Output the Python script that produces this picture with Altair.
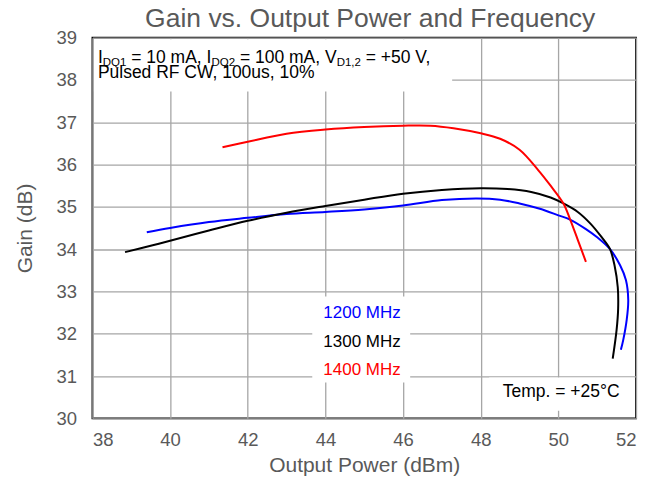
import altair as alt
import pandas as pd

FONT = "Liberation Sans"
GRAY = "#595959"

# Gain curves (x = output power in dBm, y = gain in dB), in drawing order
p_1200 = [39.4, 40.0, 41.0, 42.0, 43.0, 44.0, 45.0, 46.0, 47.0, 47.9, 48.5, 49.0, 49.5,
          50.0, 50.3, 50.7, 51.0, 51.33, 51.59, 51.74, 51.80, 51.76, 51.67, 51.61]
g_1200 = [34.40, 34.50, 34.64, 34.74, 34.83, 34.88, 34.94, 35.03, 35.16, 35.20, 35.17, 35.08, 34.96,
          34.80, 34.70, 34.48, 34.28, 34.00, 33.62, 33.27, 32.80, 32.33, 31.85, 31.62]

p_1300 = [38.84, 39.5, 40.0, 41.0, 42.0, 43.0, 44.0, 45.0, 46.0, 47.0, 48.0, 48.7, 49.3,
          49.8, 50.13, 50.5, 50.82, 51.1, 51.33, 51.45, 51.53, 51.54, 51.50, 51.40]
g_1300 = [33.93, 34.08, 34.20, 34.44, 34.67, 34.86, 35.02, 35.17, 35.31, 35.40, 35.44, 35.42, 35.35,
          35.22, 35.08, 34.88, 34.61, 34.30, 34.00, 33.60, 33.10, 32.60, 32.09, 31.41]

p_1400 = [41.35, 42.0, 43.0, 44.0, 45.0, 46.0, 46.7, 47.3, 48.0, 48.5, 49.0, 49.48,
          49.8, 50.13, 50.3, 50.5, 50.71]
g_1400 = [36.41, 36.54, 36.73, 36.83, 36.89, 36.92, 36.92, 36.86, 36.74, 36.61, 36.35, 35.87,
          35.50, 35.08, 34.71, 34.22, 33.70]

series = ["1200 MHz", "1300 MHz", "1400 MHz"]
colors = ["#0000FF", "#000000", "#FF0000"]

x_ticks = [38, 40, 42, 44, 46, 48, 50, 52]
y_ticks = [30, 31, 32, 33, 34, 35, 36, 37, 38, 39]

rows = []
for name, xs, ys in zip(series, [p_1200, p_1300, p_1400], [g_1200, g_1300, g_1400]):
    for i, (x, y) in enumerate(zip(xs, ys)):
        rows.append({"series": name, "seq": i, "pout": x, "gain": y})
df = pd.DataFrame(rows)

W, H = 544, 381

lines = alt.Chart(df).mark_line(strokeWidth=2, interpolate="catmull-rom").encode(
    x=alt.X("pout:Q", scale=alt.Scale(domain=[38, 52], nice=False),
            axis=alt.Axis(values=x_ticks, title="Output Power (dBm)", format="d")),
    y=alt.Y("gain:Q", scale=alt.Scale(domain=[30, 39], nice=False),
            axis=alt.Axis(values=y_ticks, title="Gain (dB)", format="d")),
    color=alt.Color("series:N", scale=alt.Scale(domain=series, range=colors), legend=None),
    detail="series:N",
    order="seq:Q",
)

one = alt.Data(values=[{}])


def box(x0, x1, y0, y1):
    return alt.Chart(one).mark_rect(color="white").encode(
        x=alt.value(x0), x2=alt.value(x1), y=alt.value(y0), y2=alt.value(y1)
    )


def label(text, x, y, size, color="black", align="left", baseline="alphabetic"):
    return alt.Chart(one).mark_text(
        text=text, font=FONT, fontSize=size, color=color, align=align, baseline=baseline
    ).encode(x=alt.value(x), y=alt.value(y))


# white panels behind the annotations
boxes = [box(1.5, 360, 1.5, 54), box(220, 318, 259, 345), box(397, 542.5, 340, 373.5)]

# condition block with subscripts, laid out piece by piece
# (leading spaces are advanced over instead of drawn, since SVG collapses them)
MAIN, SUB = 17.5, 11.5
pieces = [("I", MAIN), ("DQ1", SUB), (" = 10 mA, I", MAIN), ("DQ2", SUB),
          (" = 100 mA, V", MAIN), ("D1,2", SUB), (" = +50 V,", MAIN)]
em = {"I": 278, "D": 722, "Q": 778, "1": 556, "2": 556, "0": 556, "5": 556, " ": 278,
      "=": 584, "m": 833, "A": 667, ",": 278, "V": 667, "+": 584}
texts = [label("Gain vs. Output Power and Frequency", 278, -10.5, 26.5, color=GRAY,
               align="center")]
cx = 5.5
for t, s in pieces:
    dy = 3.5 if s == SUB else 0
    lead = len(t) - len(t.lstrip(" "))
    cx += lead * em[" "] * s / 1000.0
    body = t.lstrip(" ")
    texts.append(label(body, cx, 25 + dy, s))
    cx += sum(em[c] for c in body) * s / 1000.0
texts.append(label("Pulsed RF CW, 100us, 10%", 5.5, 40.5, MAIN))

# series labels
for name, c, y in zip(series, colors, [276, 305, 333]):
    texts.append(label(name, 308.5, y, 17, color=c, align="right", baseline="middle"))

texts.append(label("Temp. = +25°C", 527.5, 354.5, 17.5, align="right", baseline="middle"))

chart = alt.layer(lines, *boxes, *texts).properties(
    width=W, height=H,
    autosize=alt.AutoSizeParams(type="none"),
    padding={"left": 92.5, "top": 37.5, "right": 16, "bottom": 63},
).configure_view(
    stroke="#000000", strokeWidth=1.8
).configure_axis(
    grid=True, gridColor="#a6a6a6", gridWidth=1.3, domain=False, ticks=False,
    labelFont=FONT, labelFontSize=18.5, labelColor=GRAY,
    titleFont=FONT, titleFontSize=21, titleColor=GRAY, titleFontWeight="normal",
).configure_axisX(
    labelPadding=12, titlePadding=6
).configure_axisY(
    labelPadding=16, titlePadding=20
)

chart.save("out.html", embed_options={"renderer": "svg", "actions": False})
